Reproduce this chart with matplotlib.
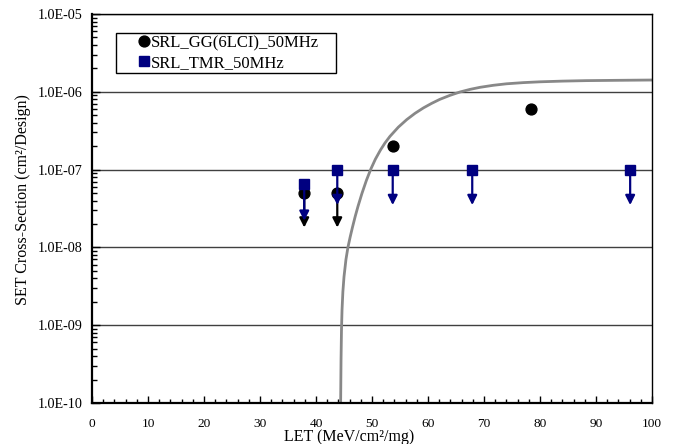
import matplotlib
matplotlib.use("Agg")
import matplotlib.pyplot as plt
from matplotlib.ticker import FixedLocator, LogLocator, MultipleLocator, NullFormatter

plt.rcParams['font.family'] = ['Liberation Serif', 'DejaVu Serif']

# ---- data ----
gg_let = [37.9, 43.8, 53.7, 78.4]
gg_xs = [5e-8, 5e-8, 2e-7, 6e-7]
gg_arrow_let = [37.9, 43.8]
gg_arrow_from = [5e-8, 5e-8]
gg_arrow_to = [1.8e-8, 1.8e-8]

tmr_let = [37.9, 43.8, 53.7, 67.9, 96.1]
tmr_xs = [6.5e-8, 1e-7, 1e-7, 1e-7, 1e-7]
tmr_arrow_to = [2.2e-8, 3.5e-8, 3.5e-8, 3.5e-8, 3.5e-8]

# fitted curve
fit_let = [44.4, 44.47, 44.55, 44.65, 44.8, 45.0, 45.35, 45.7, 46.1, 46.5, 47.0,
           47.5, 48.2, 49.0, 49.8, 50.6, 51.5, 52.3, 53.2, 54.7, 56.2, 57.7,
           59.2, 60.65, 62.1, 63.9, 65.7, 67.5, 69.3, 71.65, 74.0, 77.0, 80.0,
           84.0, 88.3, 94.0, 100.0]
fit_xs = [1e-10, 3.56e-10, 8.6e-10, 1.58e-9, 2.69e-9, 4.19e-9, 7.0e-9, 1.0e-8, 1.36e-8,
          1.80e-8, 2.50e-8, 3.37e-8, 4.93e-8, 7.27e-8, 1.02e-7, 1.36e-7, 1.78e-7,
          2.19e-7, 2.67e-7, 3.51e-7, 4.39e-7, 5.30e-7, 6.22e-7, 7.10e-7, 7.99e-7,
          8.99e-7, 9.94e-7, 1.074e-6, 1.142e-6, 1.212e-6, 1.267e-6, 1.312e-6,
          1.344e-6, 1.372e-6, 1.392e-6, 1.405e-6, 1.417e-6]

xticks = [0, 10, 20, 30, 40, 50, 60, 70, 80, 90, 100]
yticks = [1e-10, 1e-9, 1e-8, 1e-7, 1e-6, 1e-5]
ytick_labels = ["1.0E-10", "1.0E-09", "1.0E-08", "1.0E-07", "1.0E-06", "1.0E-05"]

labels = ["SRL_GG(6LCI)_50MHz", "SRL_TMR_50MHz"]

# ---- figure ----
W, H = 673, 444
fig = plt.figure(figsize=(W / 100, H / 100), dpi=100)
L, R, T, B = 92, 652, 14, 403
ax = fig.add_axes([L / W, 1 - B / H, (R - L) / W, (B - T) / H])

ax.set_yscale('log')
ax.set_xlim(0, 100)
ax.set_ylim(1e-10, 1e-5)

# gridlines
ax.yaxis.grid(True, which='major', color='#404040', lw=1.0)
ax.set_axisbelow(True)

# fit curve
ax.plot(fit_let, fit_xs, color='#888888', lw=2.0, zorder=2,
        solid_capstyle='butt', solid_joinstyle='round')

# GG series
ax.plot(gg_let, gg_xs, 'o', color='black', ms=7.8, label=labels[0], zorder=3)
for x, y0, y1 in zip(gg_arrow_let, gg_arrow_from, gg_arrow_to):
    ax.annotate('', xy=(x, y1), xytext=(x, y0),
                arrowprops=dict(arrowstyle='-|>', color='black', lw=1.6,
                                mutation_scale=14, shrinkA=0, shrinkB=0), zorder=3)

# TMR series
for x, y0, y1 in zip(tmr_let, tmr_xs, tmr_arrow_to):
    ax.annotate('', xy=(x, y1), xytext=(x, y0),
                arrowprops=dict(arrowstyle='-|>', color='#000080', lw=1.6,
                                mutation_scale=14, shrinkA=0, shrinkB=0), zorder=4)
ax.plot(tmr_let, tmr_xs, 's', color='#000080', ms=7.8, label=labels[1], zorder=5)

# ticks
ax.xaxis.set_major_locator(FixedLocator(xticks))
ax.xaxis.set_minor_locator(MultipleLocator(2))
ax.yaxis.set_major_locator(FixedLocator(yticks))
ax.set_yticklabels(ytick_labels)
ax.yaxis.set_minor_locator(LogLocator(base=10, subs=range(2, 10), numticks=20))
ax.yaxis.set_minor_formatter(NullFormatter())
ax.tick_params(axis='both', which='both', direction='in', top=False, right=False,
               width=1, color='black')
ax.tick_params(axis='x', which='major', length=5, pad=10.5, labelsize=9.6)
ax.tick_params(axis='x', which='minor', length=3)
ax.tick_params(axis='y', which='major', length=6, pad=7, labelsize=10.2)
ax.tick_params(axis='y', which='minor', length=3.5)

for s in ['left', 'bottom']:
    ax.spines[s].set_linewidth(1.6)
for s in ['top', 'right']:
    ax.spines[s].set_linewidth(1.0)

# axis labels
fig.text(349 / W, 1 - 441 / H, "LET (MeV/cm\u00b2/mg)", ha='center', va='baseline', fontsize=11.5)
fig.text(23 / W, 1 - 200 / H, "SET Cross-Section (cm\u00b2/Design)", ha='center', va='center',
         rotation=90, fontsize=11.5)

# legend
lx0, lx1, ly0, ly1 = 116, 336, 33, 77
leg = ax.legend(loc='upper left',
                bbox_to_anchor=((lx0 - L) / (R - L), (B - ly0) / (B - T),
                                (lx1 - lx0) / (R - L), 0.0),
                mode='expand', borderaxespad=0, borderpad=0.12, fontsize=12,
                handlelength=3.15, handletextpad=-1.16, labelspacing=0.25,
                fancybox=False, shadow=False, framealpha=1, edgecolor='black')
leg.get_frame().set_linewidth(1.0)

fig.savefig('out.png', dpi=100)
